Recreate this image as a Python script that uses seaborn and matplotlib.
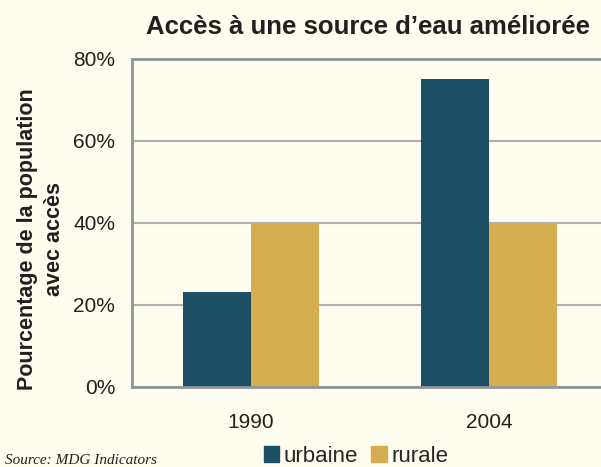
import pandas as pd
import numpy as np
import seaborn as sns
import matplotlib.pyplot as plt
from matplotlib.ticker import PercentFormatter

# Data
years = ['1990', '2004']
urbaine = [23.2, 75.1]
rurale = [40.0, 40.0]
series_names = ['urbaine', 'rurale']
colors = ['#1C4F64', '#D6AE52']
bg = '#FFFDEF'

df = pd.DataFrame({
    'year': years * 2,
    'zone': ['urbaine'] * len(years) + ['rurale'] * len(years),
    'value': urbaine + rurale,
})

sns.set_style('white')
plt.rcParams['font.family'] = ['Liberation Sans', 'DejaVu Sans']

fig = plt.figure(figsize=(6.01, 4.67), dpi=100, facecolor=bg)
ax = fig.add_axes([132 / 601, 80 / 467, 469 / 601, 328 / 467])
ax.set_facecolor(bg)

sns.barplot(data=df, x='year', y='value', hue='zone', hue_order=series_names,
            palette=colors, width=0.57, saturation=1, linewidth=0, ax=ax, legend=False)

ax.set_ylim(0, 80)
ax.set_xlim(-0.5, 1.47)
ax.set_yticks([0, 20, 40, 60, 80])
ax.yaxis.set_major_formatter(PercentFormatter(decimals=0))
ax.yaxis.grid(True, color='#AEB1B2', linewidth=1.5)
ax.set_axisbelow(True)
ax.tick_params(axis='y', length=0, pad=12, labelsize=15, colors='#231F20')
ax.tick_params(axis='x', length=0, pad=19, labelsize=15, colors='#231F20')
ax.set_xlabel('')
for side in ['left', 'bottom', 'top']:
    ax.spines[side].set_color('#8E959B')
    ax.spines[side].set_linewidth(2)
ax.spines['right'].set_visible(False)

ax.set_ylabel('Pourcentage de la population\navec accès', fontsize=15.5,
              fontweight='bold', color='#231F20', linespacing=1.35)
ax.yaxis.set_label_coords(-0.143, 0.45)

fig.text(368 / 601, 1 - 27 / 467, 'Accès à une source d\u2019eau améliorée',
         ha='center', va='center', fontsize=18.5, fontweight='bold', color='#231F20')

handles = [plt.Rectangle((0, 0), 1, 1, color=c) for c in colors]
fig.legend(handles, series_names, loc='center', bbox_to_anchor=(356 / 601, 1 - 456 / 467),
           ncol=2, frameon=False, fontsize=16, handlelength=0.7, handleheight=0.7,
           handletextpad=0.2, columnspacing=0.6, borderaxespad=0, borderpad=0)

fig.text(5 / 601, 1 - 460 / 467, 'Source: MDG Indicators', ha='left', va='center',
         fontsize=11, style='italic', family='Liberation Serif', color='#231F20')

fig.savefig('out.png', dpi=100, facecolor=bg)
